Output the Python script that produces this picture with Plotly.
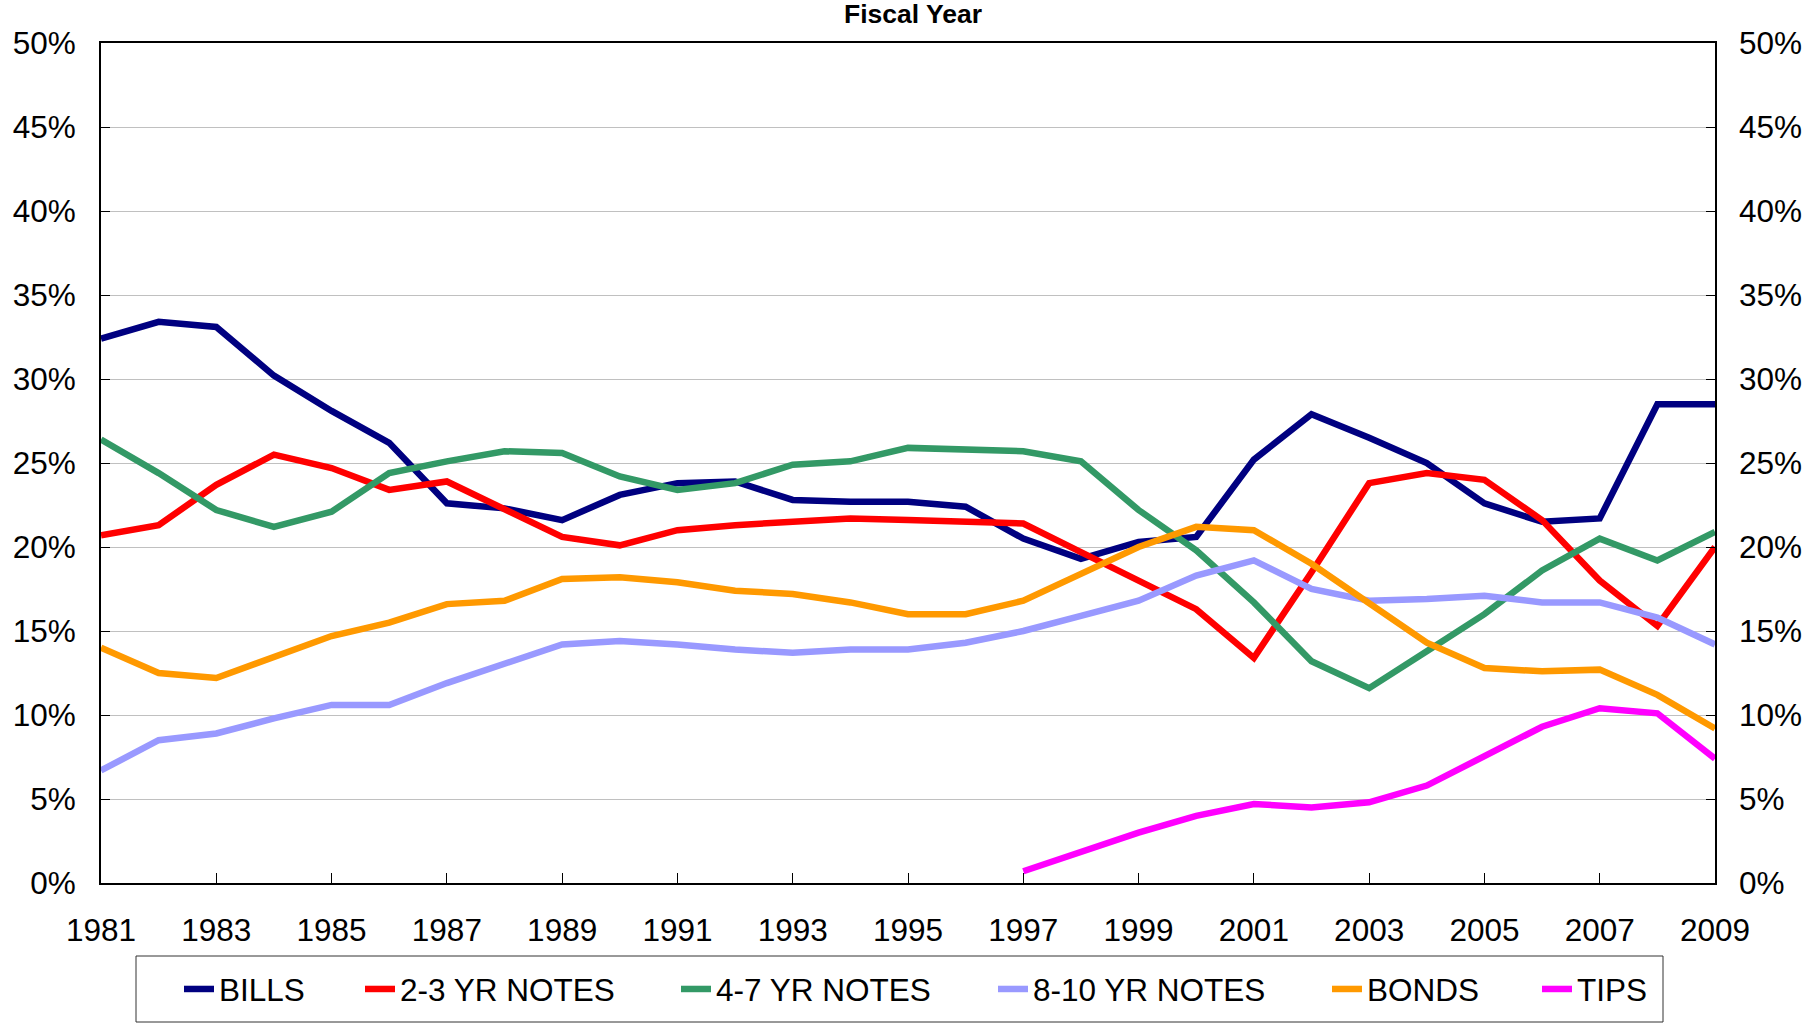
import plotly.graph_objects as go

years = list(range(1981, 2010))

bills = [32.4, 33.4, 33.1, 30.2, 28.1, 26.2, 22.6, 22.3, 21.6, 23.1,
         23.8, 23.9, 22.8, 22.7, 22.7, 22.4, 20.5, 19.3, 20.3, 20.6,
         25.2, 27.9, 26.5, 25.0, 22.6, 21.5, 21.7, 28.5, 28.5]
notes_2_3 = [20.7, 21.3, 23.7, 25.5, 24.7, 23.4, 23.9, 22.2, 20.6, 20.1,
             21.0, 21.3, 21.5, 21.7, 21.6, 21.5, 21.4, 19.7, 18.0, 16.3,
             13.4, 18.5, 23.8, 24.4, 24.0, 21.6, 18.0, 15.3, 20.0]
notes_4_7 = [26.4, 24.4, 22.2, 21.2, 22.1, 24.4, 25.1, 25.7, 25.6, 24.2,
             23.4, 23.8, 24.9, 25.1, 25.9, 25.8, 25.7, 25.1, 22.2, 19.8,
             16.7, 13.2, 11.6, 13.8, 16.0, 18.6, 20.5, 19.2, 20.9]
notes_8_10 = [6.7, 8.5, 8.9, 9.8, 10.6, 10.6, 11.9, 13.0, 14.2, 14.4,
              14.2, 13.9, 13.7, 13.9, 13.9, 14.3, 15.0, 15.9, 16.8, 18.3,
              19.2, 17.5, 16.8, 16.9, 17.1, 16.7, 16.7, 15.8, 14.2]
bonds = [14.0, 12.5, 12.2, 13.4, 14.7, 15.5, 16.6, 16.8, 18.1, 18.2,
         17.9, 17.4, 17.2, 16.7, 16.0, 16.0, 16.8, 18.4, 20.0, 21.2,
         21.0, 19.0, 16.7, 14.3, 12.8, 12.6, 12.7, 11.2, 9.2]
tips = [None] * 16 + [0.7, 1.9, 3.0, 4.0, 4.7, 4.5, 4.8, 5.8, 7.6, 9.3, 10.4, 10.1, 7.4]

series_names = ["BILLS", "2-3 YR NOTES", "4-7 YR NOTES", "8-10 YR NOTES", "BONDS", "TIPS"]
series_values = [bills, notes_2_3, notes_4_7, notes_8_10, bonds, tips]
series_colors = ["#000080", "#FF0000", "#339966", "#9999FF", "#FF9900", "#FF00FF"]

x_tick_years = list(range(1981, 2010, 2))
y_ticks = list(range(0, 51, 5))

FONT = "Liberation Sans, Arial, sans-serif"
FS = 31.5
W, H = 1806, 1023
L, R, T, B = 101, 1715, 43, 883

def px_to_paper_x(p):
    return (p - L) / (R - L)

def px_to_paper_y(p):
    return (B - p) / (B - T)

legend_text_px = [219, 400, 716, 1033, 1367, 1577]
legend_names = ["legend", "legend2", "legend3", "legend4", "legend5", "legend6"]

fig = go.Figure()
for name, vals, col, lg in zip(series_names, series_values, series_colors, legend_names):
    fig.add_trace(go.Scatter(x=years, y=vals, name=name, mode="lines",
                             line=dict(color=col, width=6.5),
                             legend=lg, hoverinfo="skip"))

# invisible trace to anchor right axis
fig.add_trace(go.Scatter(x=[years[0]], y=[None], yaxis="y2", showlegend=False,
                         hoverinfo="skip"))

layout_legends = {}
for lg, tp in zip(legend_names, legend_text_px):
    layout_legends[lg] = dict(
        x=px_to_paper_x(tp - 40), xanchor="left",
        y=px_to_paper_y(989), yanchor="middle",
        orientation="h", bgcolor="rgba(0,0,0,0)", borderwidth=0,
        font=dict(family=FONT, size=FS, color="black"),
    )

fig.update_layout(
    width=W, height=H,
    margin=dict(l=L, r=W - R, t=T, b=H - B, pad=0, autoexpand=False),
    paper_bgcolor="white", plot_bgcolor="white",
    font=dict(family=FONT, size=FS, color="black"),
    title=dict(text="<b>Fiscal Year</b>", x=px_to_paper_x(913), xref="paper",
               xanchor="center", y=1 - 14 / H, yanchor="middle",
               font=dict(family=FONT, size=26.5, color="black")),
    xaxis=dict(range=[1981, 2009], tickvals=x_tick_years,
               ticktext=[str(y) for y in x_tick_years],
               ticks="inside", ticklen=10, tickwidth=1, tickcolor="black",
               showline=True, linecolor="black", linewidth=2, mirror=True,
               showgrid=False, zeroline=False, ticklabelstandoff=18,
               automargin=False,
               tickfont=dict(family=FONT, size=FS, color="black")),
    yaxis=dict(range=[0, 50], tickvals=y_ticks,
               ticktext=[f"{v}%" for v in y_ticks],
               ticks="inside", ticklen=9, tickwidth=1, tickcolor="black",
               showline=True, linecolor="black", linewidth=2, mirror=True,
               showgrid=True, gridcolor="#C0C0C0", gridwidth=1,
               zeroline=False, ticklabelstandoff=17, automargin=False,
               tickfont=dict(family=FONT, size=FS, color="black")),
    yaxis2=dict(range=[0, 50], tickvals=y_ticks,
                ticktext=[f"{v}%" for v in y_ticks],
                overlaying="y", side="right", anchor="x",
                ticks="inside", ticklen=9, tickwidth=1, tickcolor="black",
                showline=False, showgrid=False, zeroline=False,
                ticklabelstandoff=23, automargin=False,
                tickfont=dict(family=FONT, size=FS, color="black")),
    shapes=[dict(type="rect", xref="paper", yref="paper",
                 x0=px_to_paper_x(136), x1=px_to_paper_x(1663),
                 y0=px_to_paper_y(1022), y1=px_to_paper_y(956),
                 line=dict(color="#333333", width=1), fillcolor="rgba(0,0,0,0)",
                 layer="below")],
    **layout_legends,
)

fig.write_html("out.html", config={"displayModeBar": False},
               post_script="document.body.style.margin='0';document.body.style.overflow='hidden';")
